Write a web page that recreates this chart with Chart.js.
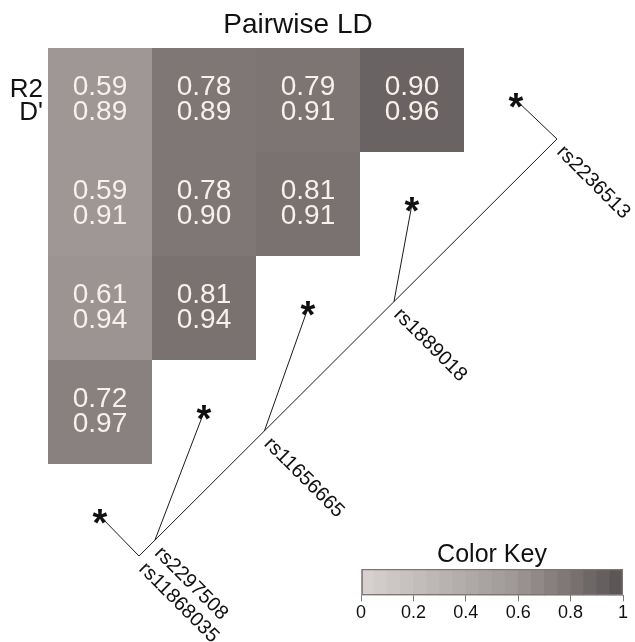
<!DOCTYPE html>
<html>
<head>
<meta charset="utf-8">
<script src="https://cdn.jsdelivr.net/npm/chart.js@4.4.1/dist/chart.umd.min.js"></script>
<style>
  body { margin: 0; background: #ffffff; }
  #ld { position: absolute; left: 0; top: 0; }
  #key { position: absolute; left: 340px; top: 530px; }
</style>
</head>
<body>
<canvas id="ld" width="635" height="642"></canvas>
<canvas id="key" width="295" height="112"></canvas>
<script>
// Data
const snpLabels = ["rs11868035", "rs2297508", "rs11656665", "rs1889018", "rs2236513"];
const snpPos = [0, 0.038, 0.30, 0.61, 1];
const r2Rows = [
  [0.59, 0.78, 0.79, 0.90],
  [0.59, 0.78, 0.81],
  [0.61, 0.81],
  [0.72],
];
const dRows = [
  [0.89, 0.89, 0.91, 0.96],
  [0.91, 0.90, 0.91],
  [0.94, 0.94],
  [0.97],
];
const keyTicks = [0, 0.2, 0.4, 0.6, 0.8, 1];
const keyBins = [0, 0.05, 0.1, 0.15, 0.2, 0.25, 0.3, 0.35, 0.4, 0.45, 0.5,
  0.55, 0.6, 0.65, 0.7, 0.75, 0.8, 0.85, 0.9, 0.95, 1];

// Grey ramp (value -> colour)
const greyStops = [
  [0, [216, 211, 209]],
  [0.59, [158, 151, 149]],
  [0.78, [126, 119, 118]],
  [0.9, [106, 99, 99]],
  [1, [88, 82, 82]],
];
const shade = (v) => {
  let i = 0;
  while (i < greyStops.length - 2 && v > greyStops[i + 1][0]) i++;
  const [a, ca] = greyStops[i];
  const [b, cb] = greyStops[i + 1];
  const t = Math.min(1, Math.max(0, (v - a) / (b - a)));
  const c = ca.map((n, k) => Math.round(n + (cb[k] - n) * t));
  return `rgb(${c[0]},${c[1]},${c[2]})`;
};

const FONT = '"Liberation Sans", Arial, sans-serif';

// Heatmap cells (column c, row r in cell units)
const cells = [];
r2Rows.forEach((row, r) => {
  row.forEach((v, c) => cells.push({ x: c + 0.5, y: r + 0.5, r2: v, d: dRows[r][c] }));
});

// SNP axis: positions along the diagonal
const lineStart = { x: 0.875, y: 4.885 };
const lineEnd = { x: 4.894, y: 0.875 };
const branchPts = snpPos.map((t) => ({
  x: lineStart.x + (lineEnd.x - lineStart.x) * t,
  y: lineStart.y + (lineEnd.y - lineStart.y) * t,
}));
const starPts = snpLabels.map((_, i) => ({ x: i + 0.5, y: 4.5 - i }));

// Asterisk marker
const starImg = document.createElement("canvas");
starImg.width = 30;
starImg.height = 30;
(() => {
  const c = starImg.getContext("2d");
  c.font = `bold 38px ${FONT}`;
  c.fillStyle = "#111";
  const m = c.measureText("*");
  const x = 15 - (m.actualBoundingBoxRight - m.actualBoundingBoxLeft) / 2;
  const y = 15 + (m.actualBoundingBoxAscent - m.actualBoundingBoxDescent) / 2;
  c.fillText("*", x, y);
})();

const lineStyle = {
  type: "line",
  showLine: true,
  borderColor: "#1a1a1a",
  borderWidth: 1,
  pointRadius: 0,
  fill: false,
};

const datasets = [
  {
    label: "main",
    ...lineStyle,
    data: branchPts,
  },
  ...branchPts.map((p, i) => ({
    label: snpLabels[i],
    ...lineStyle,
    data: [p, starPts[i]],
  })),
  {
    label: "stars",
    data: starPts,
    pointStyle: starImg,
    pointRadius: 10,
  },
  {
    label: "ld",
    data: cells,
    pointStyle: "rect",
    pointRadius: (ctx) => {
      const s = ctx.chart.scales.x;
      return (s.getPixelForValue(1) - s.getPixelForValue(0)) / Math.SQRT2;
    },
    backgroundColor: cells.map((d) => shade(d.r2)),
    borderWidth: 0,
  },
];

// Texts on the LD plot
const ldText = {
  id: "ldText",
  afterDatasetsDraw(chart) {
    const { ctx, scales: { x, y } } = chart;
    ctx.save();
    ctx.fillStyle = "#111";
    ctx.font = `28px ${FONT}`;
    ctx.textAlign = "center";
    ctx.textBaseline = "alphabetic";
    ctx.fillText("Pairwise LD", 298, 33);

    ctx.font = `26px ${FONT}`;
    ctx.textAlign = "right";
    ctx.fillText("R2", 43, 97);
    ctx.fillText("D'", 43, 120);

    ctx.fillStyle = "#f8f0ea";
    ctx.font = `28px ${FONT}`;
    ctx.textAlign = "center";
    cells.forEach((d) => {
      const px = x.getPixelForValue(d.x);
      const py = y.getPixelForValue(d.y);
      ctx.fillText(d.r2.toFixed(2), px, py - 5);
      ctx.fillText(d.d.toFixed(2), px, py + 20);
    });

    ctx.fillStyle = "#111";
    ctx.font = `20px ${FONT}`;
    ctx.textAlign = "left";
    ctx.textBaseline = "middle";
    branchPts.forEach((p, i) => {
      ctx.save();
      ctx.translate(x.getPixelForValue(p.x), y.getPixelForValue(p.y));
      ctx.rotate(Math.PI / 4);
      ctx.fillText(snpLabels[i], 9, 5);
      ctx.restore();
    });
    ctx.restore();
  },
};

new Chart(document.querySelector("#ld"), {
  type: "scatter",
  data: { datasets },
  options: {
    responsive: false,
    devicePixelRatio: 1,
    animation: false,
    events: [],
    layout: { padding: 0, autoPadding: false },
    plugins: { legend: { display: false }, tooltip: { enabled: false } },
    scales: {
      x: { type: "linear", display: false, min: -48 / 104, max: 587 / 104 },
      y: { type: "linear", display: false, reverse: true, min: -48 / 104, max: 594 / 104 },
    },
  },
  plugins: [ldText],
});

// Colour key
const binData = keyBins.slice(0, -1).map((v, i) => ({ y: "key", x: [v, keyBins[i + 1]] }));

new Chart(document.querySelector("#key"), {
  type: "bar",
  data: {
    labels: ["key"],
    datasets: [
      {
        data: [{ y: "key", x: [0, 1] }],
        backgroundColor: "rgba(0,0,0,0)",
        borderColor: "#7d7674",
        borderWidth: 1,
        borderSkipped: false,
        grouped: false,
        barPercentage: 1,
        categoryPercentage: 1,
      },
      {
        data: binData,
        backgroundColor: binData.map((d) => shade((d.x[0] + d.x[1]) / 2)),
        borderWidth: 0,
        grouped: false,
        barPercentage: 1,
        categoryPercentage: 1,
      },
    ],
  },
  options: {
    indexAxis: "y",
    responsive: false,
    devicePixelRatio: 1,
    animation: false,
    events: [],
    layout: { padding: { left: 21, right: 12, top: 0, bottom: 17 } },
    plugins: {
      legend: { display: false },
      tooltip: { enabled: false },
      title: {
        display: true,
        text: "Color Key",
        color: "#111",
        font: { family: FONT, size: 25, weight: "normal", lineHeight: 1 },
        padding: { top: 13, bottom: 1 },
      },
    },
    scales: {
      x: {
        type: "linear",
        min: 0,
        max: 1,
        afterBuildTicks: (axis) => {
          axis.ticks = keyTicks.map((v) => ({ value: v }));
        },
        ticks: {
          color: "#111",
          font: { family: FONT, size: 18 },
          padding: 1,
          callback: (v) => String(v),
        },
        grid: { drawOnChartArea: false, drawTicks: true, tickLength: 6, color: "#7d7674" },
        border: { display: false },
      },
      y: { display: false },
    },
  },
});
</script>
</body>
</html>
